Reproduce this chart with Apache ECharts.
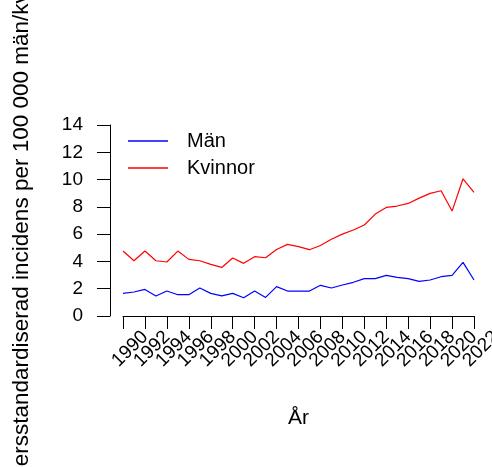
<!DOCTYPE html>
<html>
<head>
<meta charset="utf-8">
<script src="https://cdn.jsdelivr.net/npm/echarts@6/dist/echarts.min.js"></script>
<style>html,body{margin:0;padding:0;background:#fff}#c{width:492px;height:467px}</style>
</head>
<body>
<div id="c"></div>
<script>
const years = [1990,1991,1992,1993,1994,1995,1996,1997,1998,1999,2000,2001,2002,2003,2004,2005,2006,2007,2008,2009,2010,2011,2012,2013,2014,2015,2016,2017,2018,2019,2020,2021,2022];
const man = [1.66,1.76,1.95,1.47,1.83,1.56,1.56,2.05,1.66,1.47,1.66,1.34,1.83,1.36,2.15,1.83,1.83,1.83,2.25,2.05,2.27,2.47,2.74,2.74,2.98,2.83,2.74,2.54,2.64,2.88,2.98,3.93,2.64];
const kvinnor = [4.76,4.05,4.76,4.05,3.96,4.76,4.15,4.05,3.78,3.56,4.25,3.86,4.35,4.27,4.88,5.25,5.08,4.86,5.17,5.62,6.0,6.3,6.67,7.47,7.96,8.06,8.25,8.64,8.99,9.18,7.69,10.06,9.06];
const seriesNames = ['Män','Kvinnor'];
const xTitle = 'År';
const yTitle = 'Åldersstandardiserad incidens per 100 000 män/kvinnor';

const FONT = "'Liberation Sans', Arial, Helvetica, sans-serif";
const PX_PER_YEAR = 351 / 32;
const chart = echarts.init(document.getElementById('c'), null, {renderer:'canvas'});
chart.setOption({
  animation:false,
  backgroundColor:'#fff',
  grid:[
    {left:123, top:125, width:351, height:191, containLabel:false, outerBoundsMode:'none'},
    {left:123 - 2*PX_PER_YEAR + 11, top:125, width:351 + 4*PX_PER_YEAR, height:191, containLabel:false, outerBoundsMode:'none'}
  ],
  legend:{
    orient:'vertical', left:123, top:126, itemWidth:40, itemHeight:1.3, itemGap:7,
    icon:'rect',
    formatter:'{t|{name}}',
    textStyle:{fontFamily:FONT, fontSize:20, color:'#000', rich:{t:{fontFamily:FONT, fontSize:20, color:'#000', padding:[0,0,0,14], lineHeight:20}}},
    data:seriesNames
  },
  xAxis:[{
    type:'value', min:1990, max:2022, interval:2, offset:8, gridIndex:0,
    name:xTitle, nameLocation:'middle', nameGap:84,
    nameTextStyle:{fontFamily:FONT, fontSize:21, color:'#000'},
    axisLine:{show:true, lineStyle:{color:'#000', width:1}},
    axisTick:{show:true, length:13, lineStyle:{color:'#000', width:1}},
    splitLine:{show:false},
    axisLabel:{show:false}
  },{
    type:'value', min:1988, max:2024, interval:2, offset:8, gridIndex:1,
    axisLine:{show:false}, axisTick:{show:false}, splitLine:{show:false},
    axisLabel:{
      rotate:45, margin:-1, align:'right', verticalAlign:'top', hideOverlap:false,
      showMinLabel:false, showMaxLabel:false,
      formatter:v=>'{a|'+v+'}',
      rich:{a:{fontFamily:FONT, fontSize:19, color:'#000', padding:[6,0,0,0]}}
    }
  }],
  yAxis:[{
    type:'value', min:0, max:14, interval:2, offset:13, gridIndex:0,
    name:yTitle, nameLocation:'middle', nameGap:77, nameRotate:90,
    nameTextStyle:{fontFamily:FONT, fontSize:22.5, color:'#000'},
    axisLine:{show:true, lineStyle:{color:'#000', width:1}},
    axisTick:{show:true, length:13, lineStyle:{color:'#000', width:1}},
    splitLine:{show:false},
    axisLabel:{margin:27, fontFamily:FONT, fontSize:19, color:'#000', hideOverlap:false, showMinLabel:true, showMaxLabel:true}
  },{
    type:'value', min:0, max:14, gridIndex:1, show:false
  }],
  series:[
    {name:seriesNames[0], type:'line', symbol:'none', xAxisIndex:0, yAxisIndex:0, data:years.map((y,i)=>[y,man[i]]), lineStyle:{color:'#0000ff', width:1.2}, itemStyle:{color:'#0000ff'}},
    {name:seriesNames[1], type:'line', symbol:'none', xAxisIndex:0, yAxisIndex:0, data:years.map((y,i)=>[y,kvinnor[i]]), lineStyle:{color:'#ff0000', width:1.2}, itemStyle:{color:'#ff0000'}}
  ]
});
</script>
</body>
</html>
